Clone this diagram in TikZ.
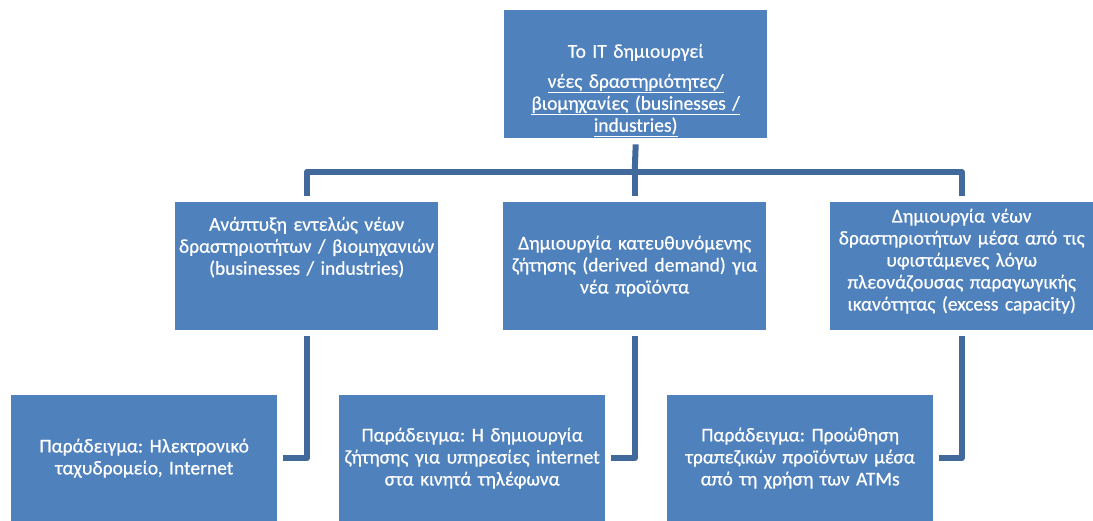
\documentclass[tikz,border=0pt]{standalone}
\usepackage{fontspec}
\setmainfont{Carlito}
\newfontfamily\boxfont{Carlito}[FakeBold=0.6]
\frenchspacing
\definecolor{boxblue}{HTML}{4F81BD}
\definecolor{lineblue}{HTML}{41699C}
\begin{document}
\begin{tikzpicture}[x=1pt,y=-1pt,
  box/.style={fill=boxblue, draw=none, inner sep=0pt,
    minimum width=263pt, minimum height=128pt, anchor=north west},
  lowbox/.style={box, minimum width=266pt, minimum height=126pt},
  txt/.style={text=white, align=center, inner sep=0pt, text width=270pt,
    font=\boxfont\fontsize{19.5}{22}\selectfont},
  conn/.style={draw=lineblue, line width=6pt, line join=round}]
\useasboundingbox (0,0) rectangle (1093,521);

% boxes
\node[box] (top) at (504,10) {};
\node[box] (mL) at (175,202) {};
\node[box] (mM) at (503,202) {};
\node[box] (mR) at (830,202) {};
\node[lowbox] (bL) at (11,395) {};
\node[lowbox] (bM) at (339,395) {};
\node[lowbox] (bR) at (667,395) {};

% texts
\node[txt, yshift=-16pt] (tTop) at (top.center) {Το IT δημιουργεί\\[8pt]
  \underline{νέες δραστηριότητες/}\\
  \underline{βιομηχανίες (businesses /}\\
  \underline{industries)}};
\node[txt, yshift=19pt] (tL) at (mL.center) {Ανάπτυξη εντελώς νέων\\δραστηριοτήτων / βιομηχανιών\\(businesses / industries)};
\node[txt, yshift=0pt] (tM) at (mM.center) {Δημιουργία κατευθυνόμενης\\ζήτησης (derived demand) για\\νέα προϊόντα};
\node[txt, yshift=5pt] (tR) at (mR.center) {Δημιουργία νέων\\δραστηριοτήτων μέσα από τις\\υφιστάμενες λόγω\\πλεονάζουσας παραγωγικής\\ικανότητας (excess capacity)};
\node[txt] (tbL) at (bL.center) {Παράδειγμα: Ηλεκτρονικό\\ταχυδρομείο, Internet};
\node[txt] (tbM) at (bM.center) {Παράδειγμα: Η δημιουργία\\ζήτησης για υπηρεσίες internet\\στα κινητά τηλέφωνα};
\node[txt] (tbR) at (bR.center) {Παράδειγμα: Προώθηση\\τραπεζικών προϊόντων μέσα\\από τη χρήση των ATMs};

% connectors
\draw[conn] ([yshift=-6pt]top.south) -- ([yshift=30pt]mM.north);
\draw[conn] ([yshift=6pt]mL.north) |- ([yshift=30pt]mM.north) -| ([yshift=6pt]mR.north);
\draw[conn] ([yshift=30pt]mM.north) -- ([yshift=6pt]mM.north);
\draw[conn] ([yshift=-6pt]mL.south) |- ([xshift=6pt]bL.east);
\draw[conn] ([yshift=-6pt]mM.south) |- ([xshift=6pt]bM.east);
\draw[conn] ([yshift=-6pt]mR.south) |- ([xshift=6pt]bR.east);
\end{tikzpicture}
\end{document}
